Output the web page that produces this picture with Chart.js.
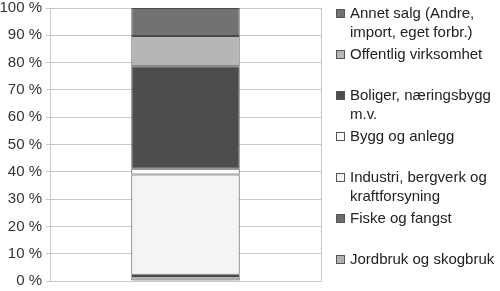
<!DOCTYPE html>
<html>
<head>
<meta charset="utf-8">
<script src="https://cdn.jsdelivr.net/npm/chart.js@4"></script>
<style>
  body { margin: 0; background: #fff; }
  #wrap { width: 500px; height: 291px; position: relative; }
</style>
</head>
<body>
<div id="wrap"><canvas id="grafico"></canvas></div>
<script>
// sektorer fra bunn til topp
const sektorer = [
    'Jordbruk og skogbruk',
    'Fiske og fangst',
    'Industri, bergverk og kraftforsyning',
    'Bygg og anlegg',
    'Boliger, næringsbygg m.v.',
    'Offentlig virksomhet',
    'Annet salg (Andre, import, eget forbr.)'
];
const andeler = [1.8, 0.5, 36.7, 2.1, 37.6, 11.0, 10.3];
const farger = ['#b1b1b1', '#6b6b6b', '#f4f4f4', '#fcfcfc', '#4c4d4f', '#b5b6b8', '#727272'];
const yTicks = [0, 10, 20, 30, 40, 50, 60, 70, 80, 90, 100];

const FONT = 'Liberation Sans, Arial, sans-serif';

function brytTekst(ctx, tekst, maks) {
    const ord = tekst.split(' ');
    const linjer = [];
    let linje = '';
    ord.forEach(o => {
        const test = linje ? linje + ' ' + o : o;
        if (ctx.measureText(test).width > maks && linje) {
            linjer.push(linje);
            linje = o;
        } else {
            linje = test;
        }
    });
    if (linje) linjer.push(linje);
    return linjer;
}

// egen forklaring til høyre, øverste serie først
const forklaring = {
    id: 'forklaring',
    afterDraw(chart) {
        const ctx = chart.ctx;
        const sets = chart.data.datasets.slice().reverse();
        const start = 14, steg = (260 - 14) / (sets.length - 1);
        ctx.save();
        ctx.font = '15px ' + FONT;
        ctx.textBaseline = 'middle';
        sets.forEach((ds, i) => {
            const y = start + i * steg;
            ctx.fillStyle = ds.backgroundColor;
            ctx.fillRect(336.5, y - 4.5, 8, 8);
            ctx.strokeStyle = '#555';
            ctx.lineWidth = 1;
            ctx.strokeRect(336.5, y - 4.5, 8, 8);
            ctx.fillStyle = '#222';
            brytTekst(ctx, ds.label, 150).forEach((l, j) => {
                ctx.fillText(l, 350, y + j * 18.5);
            });
        });
        ctx.restore();
    }
};

const chart = new Chart(document.getElementById('grafico'), {
    type: 'bar',
    data: {
        labels: [''],
        datasets: sektorer.map((s, i) => ({
            label: s,
            data: [andeler[i]],
            backgroundColor: farger[i],
            borderColor: '#4a4a4a',
            borderWidth: 1,
            borderSkipped: false,
            categoryPercentage: 1,
            barPercentage: 0.4
        }))
    },
    options: {
        responsive: true,
        maintainAspectRatio: false,
        animation: false,
        layout: { padding: { top: 8, right: 179, bottom: 10, left: 0 } },
        plugins: {
            legend: { display: false },
            tooltip: { enabled: false }
        },
        scales: {
            x: {
                stacked: true,
                ticks: { display: false },
                grid: { offset: true, color: '#c8c8c8', drawTicks: false },
                border: { color: '#c8c8c8' }
            },
            y: {
                stacked: true,
                min: 0,
                max: 100,
                afterBuildTicks: s => { s.ticks = yTicks.map(v => ({ value: v })); },
                afterFit: s => { s.width = 50; s.paddingTop = 0; s.paddingBottom = 0; },
                ticks: {
                    color: '#333',
                    font: { family: FONT, size: 15 },
                    padding: 4,
                    callback: v => v + ' %'
                },
                grid: { color: '#c8c8c8', tickLength: 4 },
                border: { color: '#c8c8c8' }
            }
        }
    },
    plugins: [forklaring]
});
</script>
</body>
</html>
